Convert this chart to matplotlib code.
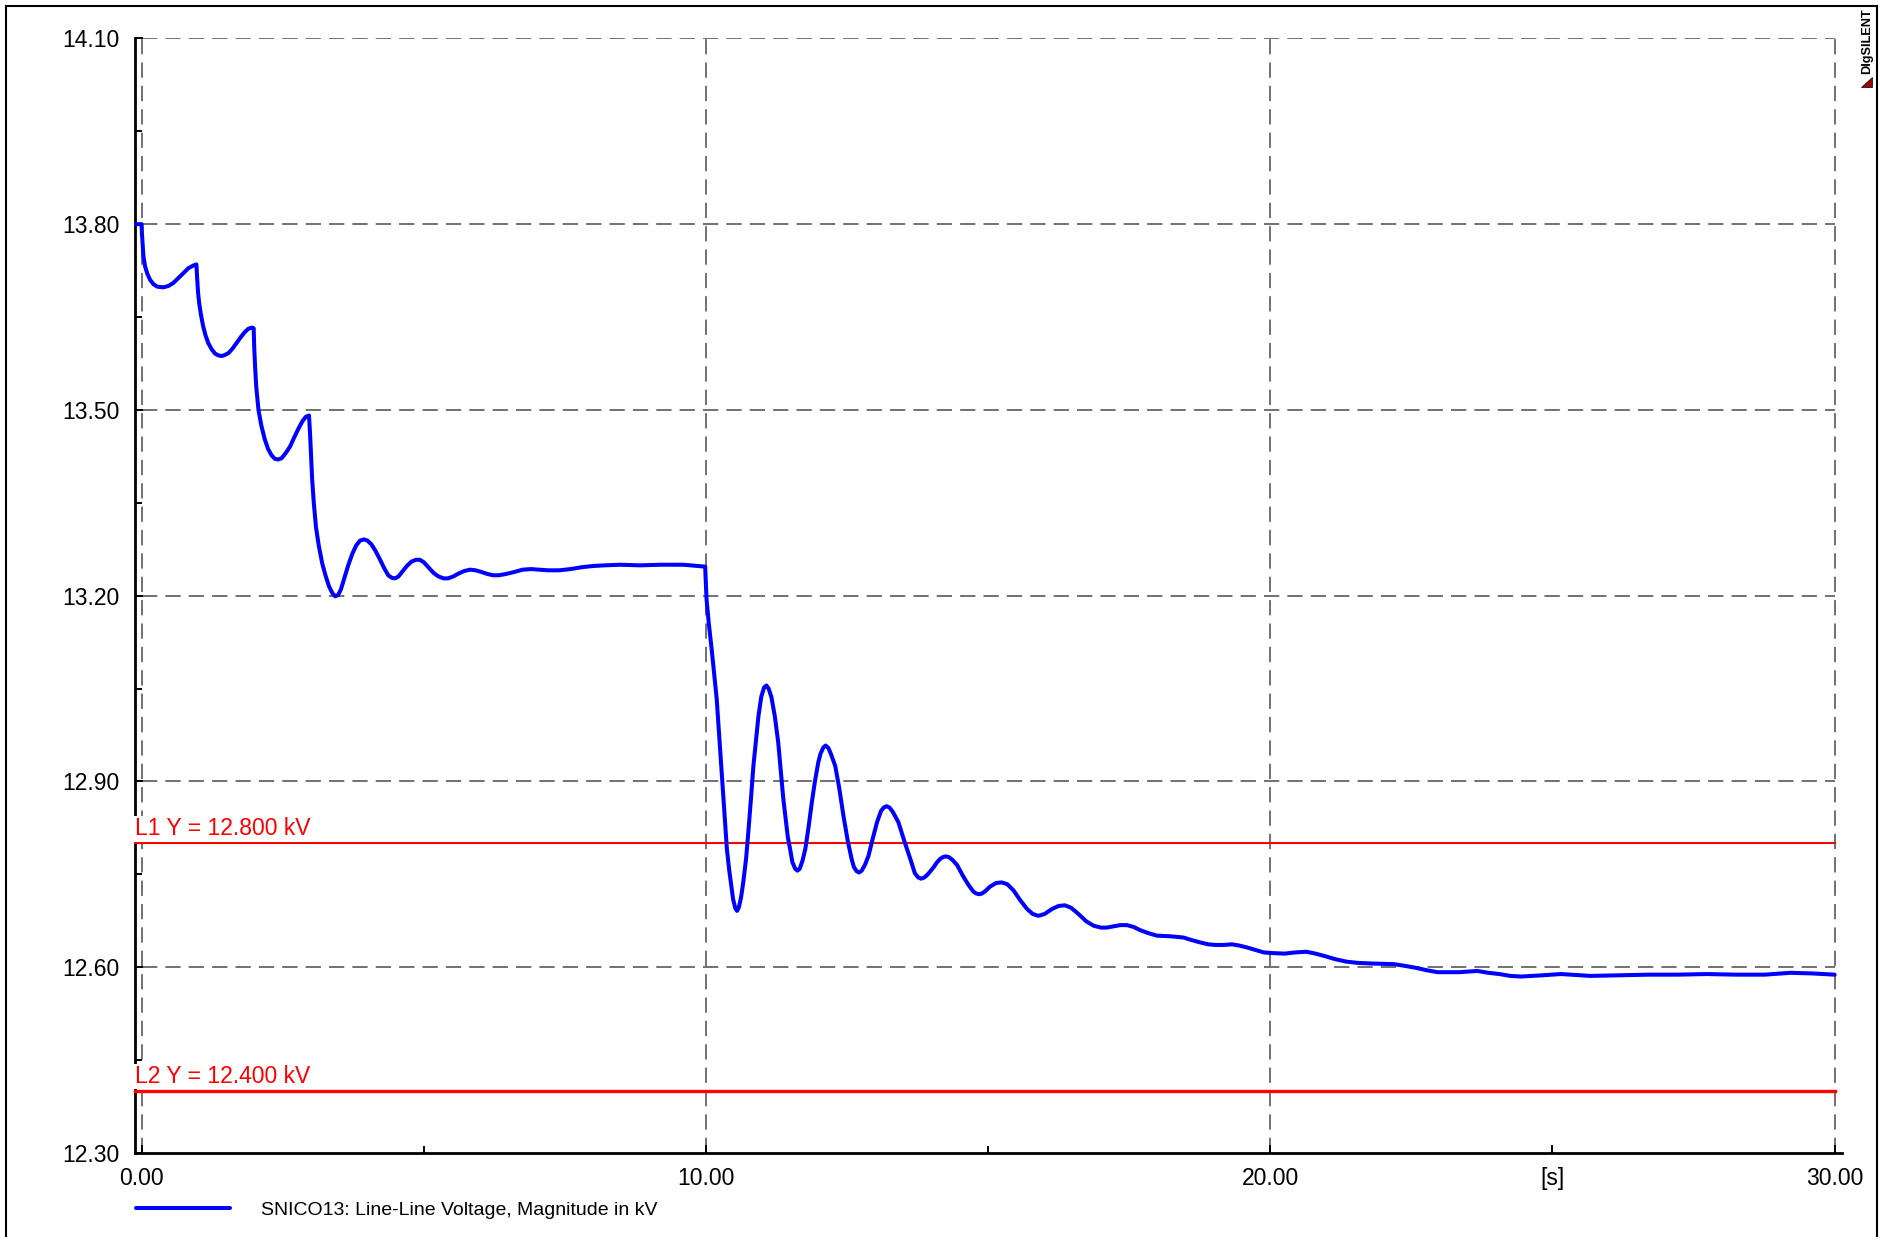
import numpy as np
import matplotlib
matplotlib.use('Agg')
import matplotlib.pyplot as plt
from matplotlib.lines import Line2D
from matplotlib.patches import Polygon
from matplotlib.ticker import FixedLocator

plt.rcParams['font.family'] = ['Liberation Sans', 'DejaVu Sans']

# voltage curve (t [s], V [kV])
before_step = [
    (-0.10, 13.800), (0.00, 13.800), (0.005, 13.785), (0.03, 13.750), (0.06, 13.732), (0.10, 13.720),
    (0.15, 13.710), (0.21, 13.703), (0.28, 13.699), (0.38, 13.698), (0.47, 13.700), (0.56, 13.705),
    (0.65, 13.713), (0.74, 13.721), (0.83, 13.729), (0.91, 13.733), (0.97, 13.735),
    (0.985, 13.710), (1.00, 13.689), (1.02, 13.672), (1.05, 13.654), (1.09, 13.635), (1.13, 13.621),
    (1.18, 13.608), (1.24, 13.598), (1.30, 13.591), (1.36, 13.588), (1.42, 13.587), (1.48, 13.589),
    (1.54, 13.592), (1.61, 13.599), (1.68, 13.608), (1.76, 13.618), (1.83, 13.626), (1.89, 13.631),
    (1.95, 13.633), (1.985, 13.632),
    (1.995, 13.600), (2.01, 13.570), (2.03, 13.538), (2.07, 13.500), (2.12, 13.475), (2.18, 13.453),
    (2.24, 13.437), (2.30, 13.427), (2.36, 13.421), (2.42, 13.420), (2.48, 13.422), (2.55, 13.430),
    (2.63, 13.441), (2.71, 13.457), (2.78, 13.470), (2.85, 13.482), (2.91, 13.489), (2.965, 13.491),
    (2.985, 13.460), (3.00, 13.430), (3.02, 13.390), (3.05, 13.350), (3.09, 13.310), (3.14, 13.280),
    (3.20, 13.252), (3.26, 13.232), (3.32, 13.215), (3.38, 13.204), (3.43, 13.199), (3.48, 13.201),
    (3.53, 13.210), (3.59, 13.228), (3.66, 13.249), (3.73, 13.267), (3.80, 13.281), (3.87, 13.289),
    (3.94, 13.291), (4.00, 13.289), (4.07, 13.283), (4.14, 13.273), (4.22, 13.259), (4.30, 13.244),
    (4.37, 13.233), (4.43, 13.229), (4.49, 13.228), (4.55, 13.231), (4.62, 13.239), (4.70, 13.248),
    (4.78, 13.255), (4.86, 13.258), (4.93, 13.258), (5.00, 13.254), (5.08, 13.246), (5.17, 13.237),
    (5.26, 13.231), (5.35, 13.228), (5.43, 13.228), (5.52, 13.231), (5.62, 13.236), (5.72, 13.240),
    (5.82, 13.242), (5.92, 13.241), (6.03, 13.238), (6.13, 13.235), (6.23, 13.233), (6.33, 13.233),
    (6.45, 13.235), (6.59, 13.238), (6.75, 13.242), (6.90, 13.243), (7.05, 13.242), (7.20, 13.241),
    (7.40, 13.241), (7.60, 13.243), (7.80, 13.246), (8.00, 13.248), (8.20, 13.249), (8.48, 13.250),
    (8.83, 13.249), (9.19, 13.250), (9.60, 13.250), (9.985, 13.247),
]
after_step = [
    (10.01, 13.194), (10.05, 13.155), (10.10, 13.114), (10.19, 13.033), (10.25, 12.953), (10.31, 12.872),
    (10.37, 12.791), (10.41, 12.758), (10.44, 12.737), (10.48, 12.710), (10.52, 12.695), (10.55, 12.691),
    (10.58, 12.696), (10.62, 12.712), (10.66, 12.737), (10.71, 12.775), (10.75, 12.818), (10.80, 12.876),
    (10.84, 12.925), (10.89, 12.970), (10.93, 13.006), (10.98, 13.037), (11.03, 13.052), (11.07, 13.055),
    (11.11, 13.050), (11.16, 13.036), (11.22, 13.005), (11.28, 12.963), (11.37, 12.872), (11.45, 12.810),
    (11.49, 12.791), (11.53, 12.770), (11.58, 12.759), (11.62, 12.756), (11.66, 12.759), (11.71, 12.772),
    (11.76, 12.791), (11.82, 12.828), (11.875, 12.866), (11.93, 12.900), (11.99, 12.931), (12.03, 12.945),
    (12.08, 12.955), (12.12, 12.958), (12.17, 12.954), (12.22, 12.943), (12.29, 12.925), (12.36, 12.890),
    (12.435, 12.845), (12.51, 12.805), (12.58, 12.775), (12.62, 12.762), (12.67, 12.755), (12.71, 12.753),
    (12.76, 12.756), (12.82, 12.766), (12.88, 12.780), (12.95, 12.806), (13.03, 12.834), (13.10, 12.852),
    (13.15, 12.858), (13.20, 12.860), (13.25, 12.858), (13.31, 12.851), (13.41, 12.834), (13.51, 12.805),
    (13.62, 12.775), (13.70, 12.752), (13.76, 12.745), (13.81, 12.743), (13.87, 12.745), (13.93, 12.750),
    (14.03, 12.761), (14.09, 12.769), (14.15, 12.775), (14.20, 12.778), (14.25, 12.779), (14.30, 12.778),
    (14.36, 12.774), (14.45, 12.765), (14.55, 12.748), (14.65, 12.733), (14.74, 12.722), (14.79, 12.719),
    (14.84, 12.718), (14.89, 12.719), (14.95, 12.723), (15.03, 12.730), (15.14, 12.736), (15.24, 12.737),
    (15.34, 12.734), (15.45, 12.724), (15.57, 12.708), (15.69, 12.694), (15.79, 12.686), (15.89, 12.683),
    (16.00, 12.686), (16.13, 12.694), (16.25, 12.699), (16.36, 12.700), (16.47, 12.696), (16.60, 12.686),
    (16.74, 12.674), (16.87, 12.667), (17.00, 12.664), (17.10, 12.664), (17.22, 12.666), (17.34, 12.668),
    (17.46, 12.668), (17.58, 12.665), (17.69, 12.660), (17.84, 12.655), (17.99, 12.651), (18.225, 12.650),
    (18.46, 12.648), (18.60, 12.644), (18.76, 12.640), (18.90, 12.637), (19.02, 12.636), (19.17, 12.636),
    (19.32, 12.637), (19.45, 12.635), (19.585, 12.632), (19.73, 12.628), (19.88, 12.624), (20.00, 12.623),
    (20.255, 12.622), (20.45, 12.624), (20.64, 12.625), (20.80, 12.622), (20.965, 12.618), (21.15, 12.613),
    (21.35, 12.609), (21.55, 12.607), (21.80, 12.606), (22.19, 12.605), (22.40, 12.602), (22.58, 12.599),
    (22.78, 12.595), (22.96, 12.592), (23.35, 12.592), (23.67, 12.594), (23.86, 12.591), (24.06, 12.589),
    (24.25, 12.586), (24.445, 12.585), (24.83, 12.587), (25.15, 12.589), (25.67, 12.586), (26.185, 12.587),
    (26.70, 12.588), (27.22, 12.588), (27.73, 12.589), (28.25, 12.588), (28.76, 12.588), (29.215, 12.591),
    (29.60, 12.590), (30.00, 12.588),
]

limit_vals = [12.8, 12.4]
limit_labels = ['L1 Y = 12.800 kV', 'L2 Y = 12.400 kV']
limit_lw = [1.5, 2.4]

y_major = [12.30, 12.60, 12.90, 13.20, 13.50, 13.80, 14.10]
y_minor = [12.45, 12.75, 13.05, 13.35, 13.65, 13.95]
x_major = [0, 10, 20, 25, 30]
x_labels = ['0.00', '10.00', '20.00', '[s]', '30.00']
x_minor = [5, 15]
x_grid = [0, 10, 20, 30]

t, v = zip(*(before_step + after_step))

W, H = 1881, 1237
fig = plt.figure(figsize=(W / 100, H / 100), dpi=100)
ax = fig.add_axes([135 / W, 1 - 1153 / H, (1842 - 135) / W, (1153 - 38.4) / H])
ax.set_xlim(-0.118, 30.13)
ax.set_ylim(12.30, 14.10)

fs = 16.5
grid_kw = dict(color='#4a4a4a', lw=1.1, linestyle=(0, (10, 5.3)), zorder=1)
for g in y_major[1:]:
    ax.plot([0, 30], [g, g], **grid_kw)
for g in x_grid:
    ax.plot([g, g], [12.30, 14.10], **grid_kw)

for val, lab, lw in zip(limit_vals, limit_labels, limit_lw):
    ax.plot([-0.118, 30], [val, val], color='#ff0000', lw=lw, zorder=3, clip_on=False)
    ax.text(-0.118, val + 0.005, lab, color='#ff0000', fontsize=fs, ha='left', va='bottom',
            zorder=6, clip_on=False,
            bbox=dict(facecolor='white', edgecolor='none', pad=1))

ax.plot(t, v, color='#0000ff', lw=2.9, zorder=4, clip_on=False,
        solid_joinstyle='round', solid_capstyle='round',
        label='SNICO13: Line-Line Voltage, Magnitude in kV')

for s in ['top', 'right']:
    ax.spines[s].set_visible(False)
for s in ['left', 'bottom']:
    ax.spines[s].set_linewidth(2.0)

ax.yaxis.set_major_locator(FixedLocator(y_major))
ax.yaxis.set_minor_locator(FixedLocator(y_minor))
ax.set_yticklabels([f'{y:.2f}' for y in y_major])
ax.xaxis.set_major_locator(FixedLocator(x_major))
ax.xaxis.set_minor_locator(FixedLocator(x_minor))
ax.set_xticklabels(x_labels)
ax.tick_params(axis='both', which='both', direction='in', width=1.4, labelsize=fs)
ax.tick_params(axis='both', which='major', length=6)
ax.tick_params(axis='both', which='minor', length=5)
ax.tick_params(axis='y', pad=11)
ax.tick_params(axis='x', pad=10)

fig.legend(loc='center left', bbox_to_anchor=(136 / W, 1 - 1210 / H), frameon=False,
           fontsize=14, handlelength=4.85, handletextpad=1.6, borderpad=0, borderaxespad=0)

# outer frame
for xs, ys in [([6, 6], [6, H + 5]), ([6, 1877], [6, 6]), ([1877, 1877], [6, H + 5])]:
    fig.add_artist(Line2D([x / W for x in xs], [1 - y / H for y in ys], color='black', lw=1.5))

# DIgSILENT mark
fig.text(1867 / W, 1 - 41 / H, 'DIgSILENT', rotation=90, ha='center', va='center',
         fontsize=9.2, fontweight='bold')
fig.add_artist(Polygon([(1861 / W, 1 - 87 / H), (1872 / W, 1 - 87 / H), (1872 / W, 1 - 77 / H)],
                       closed=True, facecolor='#a00000', edgecolor='black', lw=0.5))

plt.savefig('out.png', dpi=100)
plt.close()
